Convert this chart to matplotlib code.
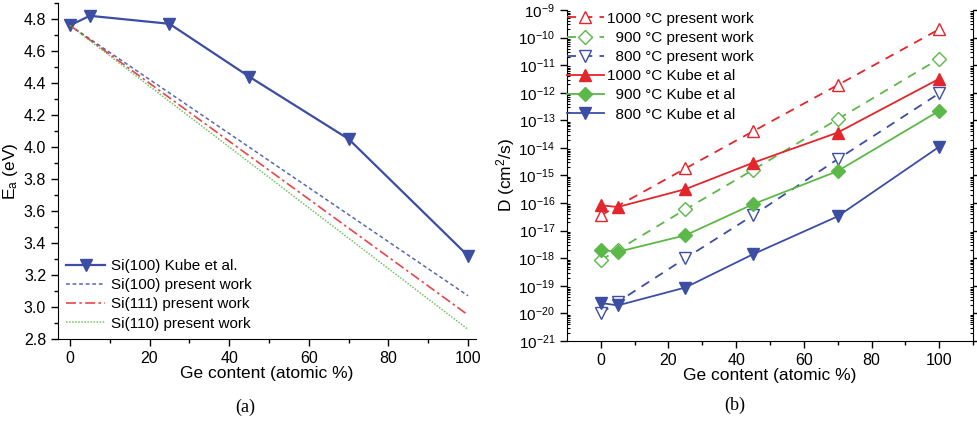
import matplotlib
matplotlib.use("Agg")
import matplotlib.pyplot as plt
from matplotlib.ticker import MultipleLocator, LogLocator, NullFormatter, FixedLocator

plt.rcParams['font.family'] = ['Liberation Sans', 'DejaVu Sans']
plt.rcParams['mathtext.fontset'] = 'custom'
plt.rcParams['mathtext.rm'] = 'Liberation Sans'
plt.rcParams['mathtext.it'] = 'Liberation Sans:italic'
plt.rcParams['mathtext.bf'] = 'Liberation Sans:bold'

# ---- Panel (a) data ----
ge_kube = [0, 5, 25, 45, 70, 100]
ea_kube = [4.76, 4.82, 4.77, 4.44, 4.05, 3.32]
ge_line = [0, 100]
ea_si100 = [4.76, 3.07]
ea_si111 = [4.76, 2.95]
ea_si110 = [4.76, 2.86]

# ---- Panel (b) data ----
ge_b = [0, 5, 25, 45, 70, 100]
ge_1000p = [0, 25, 45, 70, 100]
d_1000_present = [3.6e-17, 1.8e-15, 4.0e-14, 1.9e-12, 2.0e-10]
d_900_present = [8.5e-19, 2.0e-18, 5.9e-17, 1.6e-15, 1.1e-13, 1.7e-11]
d_800_present = [1.0e-20, 2.6e-20, 1.0e-18, 3.6e-17, 3.9e-15, 9.5e-13]
d_1000_kube = [8.3e-17, 7.2e-17, 3.2e-16, 2.9e-15, 3.6e-14, 3.2e-12]
d_900_kube = [2.0e-18, 1.7e-18, 6.8e-18, 9.1e-17, 1.45e-15, 2.2e-13]
d_800_kube = [2.4e-20, 1.95e-20, 8.7e-20, 1.4e-18, 3.3e-17, 1.1e-14]

blue = '#3b4ea3'
red = '#e3262b'
green = '#5cb848'

fig = plt.figure(figsize=(9.78, 4.23), dpi=100)

# ---------- Panel (a) ----------
axa = fig.add_axes([58/978, (423-339)/423, (476-58)/978, (339-3)/423])
axa.plot(ge_kube, ea_kube, '-', color=blue, lw=1.6, marker='v', ms=8,
         label='Si(100) Kube et al.')
axa.plot(ge_line, ea_si100, linestyle=(0, (2.5, 1.8)), color=blue, lw=1.1, alpha=0.85,
         label='Si(100) present work')
axa.plot(ge_line, ea_si111, linestyle=(0, (6, 2, 1.5, 2)), color=red, lw=1.2, alpha=0.85,
         label='Si(111) present work')
axa.plot(ge_line, ea_si110, linestyle=(0, (1, 1)), color=green, lw=1.1, alpha=0.85,
         label='Si(110) present work')
axa.set_xlim(-3, 102)
axa.set_ylim(2.8, 4.9)
axa.xaxis.set_major_locator(MultipleLocator(20))
axa.xaxis.set_minor_locator(MultipleLocator(10))
axa.yaxis.set_major_locator(FixedLocator([2.8, 3.0, 3.2, 3.4, 3.6, 3.8, 4.0, 4.2, 4.4, 4.6, 4.8]))
axa.yaxis.set_major_formatter(matplotlib.ticker.FormatStrFormatter('%.1f'))
axa.yaxis.set_minor_locator(MultipleLocator(0.1))
for s in ['top', 'right']:
    axa.spines[s].set_visible(False)
axa.tick_params(which='major', direction='out', length=5, labelsize=11.5, width=1)
axa.tick_params(which='minor', direction='out', length=3, width=1)
axa.set_xlabel('Ge content (atomic %)', fontsize=12.5, labelpad=0)
axa.set_ylabel('E$_\\mathregular{a}$ (eV)', fontsize=12.5, labelpad=3)
axa.legend(loc='lower left', bbox_to_anchor=(0.0, 0.0), frameon=False, fontsize=11,
           handlelength=2.5, handletextpad=0.4, labelspacing=0.34, borderaxespad=0.15)
fig.text(245/978, 1 - 407/423, '(a)', ha='center', va='center',
         fontsize=13, family='Liberation Serif')

# ---------- Panel (b) ----------
axb = fig.add_axes([567/978, (423-341)/423, (973-567)/978, (341-10)/423])
axb.plot(ge_1000p, d_1000_present, linestyle=(0, (5, 4)), color=red, lw=1.3,
         marker='^', mfc='white', mec=red, ms=8, label='1000 °C present work')
axb.plot(ge_b, d_900_present, linestyle=(0, (5, 4)), color=green, lw=1.3,
         marker='D', mfc='white', mec=green, ms=7, label='  900 °C present work')
axb.plot(ge_b, d_800_present, linestyle=(0, (5, 4)), color=blue, lw=1.3,
         marker='v', mfc='white', mec=blue, ms=8, label='  800 °C present work')
axb.plot(ge_b, d_1000_kube, '-', color=red, lw=1.3, marker='^', ms=8,
         label='1000 °C Kube et al')
axb.plot(ge_b, d_900_kube, '-', color=green, lw=1.3, marker='D', ms=7,
         label='  900 °C Kube et al')
axb.plot(ge_b, d_800_kube, '-', color=blue, lw=1.3, marker='v', ms=8,
         label='  800 °C Kube et al')
axb.set_yscale('log')
axb.set_xlim(-10, 110)
axb.set_ylim(1e-21, 1e-9)
axb.xaxis.set_major_locator(FixedLocator([0, 20, 40, 60, 80, 100]))
axb.xaxis.set_minor_locator(FixedLocator([10, 30, 50, 70, 90, 110]))
axb.yaxis.set_major_locator(LogLocator(base=10, numticks=20))
axb.yaxis.set_minor_locator(LogLocator(base=10, subs=range(2, 10), numticks=20))
axb.yaxis.set_minor_formatter(NullFormatter())
axb.spines['top'].set_visible(False)
axb.tick_params(axis='y', which='major', direction='out', length=5, labelsize=11, right=True, width=1)
axb.tick_params(axis='y', which='minor', direction='in', length=2.5, right=True, width=0.8)
axb.tick_params(axis='x', which='major', direction='out', length=5, labelsize=11.5, width=1)
axb.tick_params(axis='x', which='minor', direction='out', length=3, width=1)
axb.set_xlabel('Ge content (atomic %)', fontsize=12.5, labelpad=0)
axb.set_ylabel('D (cm$^\\mathregular{2}$/s)', fontsize=12.5, labelpad=1)
axb.legend(loc='upper left', bbox_to_anchor=(0.0, 0.995), frameon=False, fontsize=11,
           handlelength=2.4, handletextpad=0.2, labelspacing=0.34, borderaxespad=0.0,
           borderpad=0.0)
fig.text(735/978, 1 - 405/423, '(b)', ha='center', va='center',
         fontsize=13, family='Liberation Serif')

fig.savefig('out.png', dpi=100)
